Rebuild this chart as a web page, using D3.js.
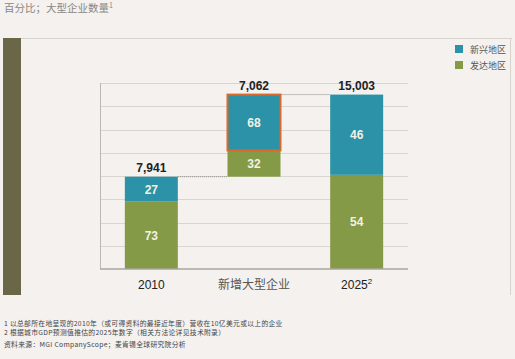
<!DOCTYPE html>
<html><head><meta charset="utf-8">
<script src="https://cdn.jsdelivr.net/npm/d3@7"></script>
<style>
html,body{margin:0;padding:0;background:#f4f1ee;}
svg{display:block;}
</style></head>
<body>
<script>
const categories = ["2010", "新增大型企业", "2025"];
const totals = [7941, 7062, 15003];
const emergingPct = [27, 68, 46];
const developedPct = [73, 32, 54];
const bases = [0, 7941, 0];
const gridTicks = [0, 2000, 4000, 6000, 8000, 10000, 12000, 14000, 16000];
const seriesNames = ["新兴地区", "发达地区"];
const title = "百分比；大型企业数量";
const footnotes = [
  "1 以总部所在地呈现的2010年（或可得资料的最接近年度）营收在10亿美元或以上的企业",
  "2 根据城市GDP预测值推估的2025年数字（相关方法论详见技术附录）"
];
const source = "资料来源：MGI CompanyScope；麦肯锡全球研究院分析";

const W = 515, H = 359;
const teal = "#2b92a7", green = "#849a46", olive = "#6a6748";
const cjk = "'Noto Sans CJK SC', sans-serif";
const latin = "'Liberation Sans', Arial, sans-serif";

const svg = d3.select("body").append("svg").attr("width", W).attr("height", H);
svg.append("rect").attr("width", W).attr("height", H).attr("fill", "#f4f1ee");

// title
const t = svg.append("text").attr("x", 4).attr("y", 12).attr("font-family", cjk)
  .attr("font-size", 10.5).attr("fill", "#8a8683").text(title);
t.append("tspan").attr("font-size", 7).attr("dy", -4).text("1");

// panel frame
svg.append("line").attr("x1", 21).attr("x2", 512).attr("y1", 38.5).attr("y2", 38.5)
  .attr("stroke", "#d6d2cc").attr("stroke-width", 1);
svg.append("line").attr("x1", 510.5).attr("x2", 510.5).attr("y1", 38).attr("y2", 295)
  .attr("stroke", "#d6d2cc").attr("stroke-width", 1);
svg.append("rect").attr("x", 3).attr("y", 38).attr("width", 18).attr("height", 257).attr("fill", olive);

// scales
const x = d3.scaleBand().domain(categories).range([100, 408]).paddingInner(0.484).paddingOuter(0.242);
const y = d3.scaleLinear().domain([0, 16000]).range([269, 83]);

// grid
svg.append("g").selectAll("line").data(gridTicks.slice(1)).join("line")
  .attr("x1", 100).attr("x2", 408)
  .attr("y1", d => Math.round(y(d)) + 0.5).attr("y2", d => Math.round(y(d)) + 0.5)
  .attr("stroke", "#d9d5cf").attr("stroke-width", 1);

// left axis
svg.append("line").attr("x1", 100.5).attr("x2", 100.5).attr("y1", y(16000)).attr("y2", y(0))
  .attr("stroke", "#bdb8b1").attr("stroke-width", 1);

// data rows
const rows = categories.map((c, i) => {
  const base = bases[i], tot = totals[i];
  const dev = tot * developedPct[i] / 100;
  return {c, i, base, tot, dev, em: tot - dev};
});

// dotted connectors
const conn = [[0, 1, totals[0]], [1, 2, bases[1] + totals[1]]];
svg.append("g").selectAll("line").data(conn).join("line")
  .attr("x1", d => x(categories[d[0]]) + x.bandwidth())
  .attr("x2", d => x(categories[d[1]]))
  .attr("y1", d => y(d[2])).attr("y2", d => y(d[2]))
  .attr("stroke", "#8d8a86").attr("stroke-width", 1).attr("stroke-dasharray", "1,1");

const g = svg.append("g");
// developed (bottom)
g.selectAll("rect.dev").data(rows).join("rect").attr("class", "dev")
  .attr("x", d => x(d.c)).attr("width", x.bandwidth())
  .attr("y", d => y(d.base + d.dev)).attr("height", d => y(d.base) - y(d.base + d.dev))
  .attr("fill", green);
// emerging (top)
g.selectAll("rect.em").data(rows).join("rect").attr("class", "em")
  .attr("x", d => x(d.c)).attr("width", x.bandwidth())
  .attr("y", d => y(d.base + d.tot)).attr("height", d => y(d.base + d.dev) - y(d.base + d.tot))
  .attr("fill", teal)
  .attr("stroke", d => d.i === 1 ? "#d9692c" : "none")
  .attr("stroke-width", 2);

// inside labels
const lbl = (sel) => sel.attr("text-anchor", "middle").attr("font-family", latin)
  .attr("font-weight", "bold").attr("font-size", 12).attr("fill", "#f3f1e4");
g.selectAll("text.dv").data(rows).join("text").attr("class", "dv").call(lbl)
  .attr("x", d => x(d.c) + x.bandwidth() / 2)
  .attr("y", d => (y(d.base) + y(d.base + d.dev)) / 2 + 4.5)
  .text(d => developedPct[d.i]);
g.selectAll("text.ev").data(rows).join("text").attr("class", "ev").call(lbl)
  .attr("x", d => x(d.c) + x.bandwidth() / 2)
  .attr("y", d => (y(d.base + d.dev) + y(d.base + d.tot)) / 2 + 4.5)
  .text(d => emergingPct[d.i]);

// totals
g.selectAll("text.tot").data(rows).join("text").attr("class", "tot")
  .attr("text-anchor", "middle").attr("font-family", latin).attr("font-weight", "bold")
  .attr("font-size", 12).attr("fill", "#222")
  .attr("x", d => x(d.c) + x.bandwidth() / 2)
  .attr("y", d => y(d.base + d.tot) - 5)
  .text(d => d3.format(",")(d.tot));

// bottom axis
svg.append("line").attr("x1", 100).attr("x2", 408).attr("y1", 269).attr("y2", 269)
  .attr("stroke", "#aaa59e").attr("stroke-width", 1.5);
const xl = svg.append("g").selectAll("text").data(categories).join("text")
  .attr("text-anchor", "middle")
  .attr("x", d => x(d) + x.bandwidth() / 2).attr("y", 289)
  .attr("font-family", (d, i) => i === 1 ? cjk : latin)
  .attr("font-size", 12)
  .attr("fill", (d, i) => i === 1 ? "#555" : "#222")
  .text(d => d);
xl.filter((d, i) => i === 2).append("tspan").attr("font-size", 8).attr("dy", -5).text("2");

// legend
const leg = svg.append("g").selectAll("g").data(seriesNames).join("g")
  .attr("transform", (d, i) => `translate(455,${45 + i * 16})`);
leg.append("rect").attr("width", 8).attr("height", 8).attr("fill", (d, i) => i === 0 ? teal : green);
leg.append("text").attr("x", 15).attr("y", 7.5).attr("font-family", cjk).attr("font-size", 9)
  .attr("fill", "#555").text(d => d);

// footnotes
svg.append("g").selectAll("text").data(footnotes).join("text")
  .attr("x", 4).attr("y", (d, i) => 325.5 + i * 9)
  .attr("font-family", cjk).attr("font-size", 6.8).attr("letter-spacing", 0.3)
  .attr("fill", "#444").text(d => d);
svg.append("text").attr("x", 4).attr("y", 346.5).attr("font-family", cjk)
  .attr("font-size", 6.8).attr("letter-spacing", 0.3).attr("fill", "#444").text(source);
</script>
</body></html>
